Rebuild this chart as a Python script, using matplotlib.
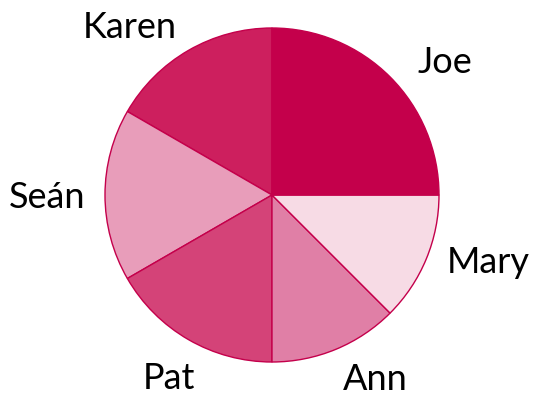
import matplotlib
matplotlib.use("Agg")
import matplotlib.pyplot as plt

names = ["Karen", "Seán", "Pat", "Ann", "Mary", "Joe"]
values = [4, 4, 4, 3, 3, 6]
colors = ["#CD1F5E", "#E89DBA", "#D44378", "#E07FA6", "#F7DBE5", "#C4004B"]
# label anchor positions (relative to pie center, in radius units)
label_pos = [(-0.853, 0.940), (-1.344, -0.078), (-0.617, -1.162),
             (0.617, -1.170), (1.296, -0.467), (1.036, 0.731)]

plt.rcParams['font.family'] = ['Lato', 'DejaVu Sans']

fig = plt.figure(figsize=(5.34, 3.98), dpi=100)
ax = fig.add_axes([0, 0, 1, 1])
ax.pie(values, colors=colors, startangle=90, counterclock=True, radius=1.0,
       wedgeprops=dict(edgecolor="#C4004B", linewidth=1.0))
for name, (x, y) in zip(names, label_pos):
    ax.text(x, y, name, ha="center", va="baseline", fontsize=26, color="black")
R = 167.0
ax.set_xlim(-272 / R, (534 - 272) / R)
ax.set_ylim(-(398 - 195) / R, 195 / R)
ax.set_aspect("auto")
ax.axis("off")
fig.savefig("out.png", dpi=100)
